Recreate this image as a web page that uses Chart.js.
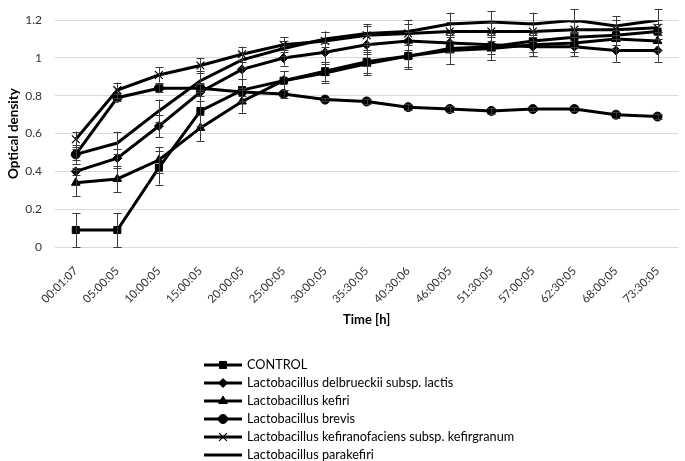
<!DOCTYPE html>
<html><head><meta charset="utf-8">
<script src="https://cdn.jsdelivr.net/npm/chart.js@4.4.0/dist/chart.umd.min.js"></script>
<style>html,body{margin:0;padding:0;background:#fff}#wrap{width:685px;height:461px;position:relative}</style>
</head><body><div id="wrap"><canvas id="c" width="685" height="461"></canvas></div>
<script>
const categories = ["00:01:07","05:00:05","10:00:05","15:00:05","20:00:05","25:00:05","30:00:05","35:30:05","40:30:06","46:00:05","51:30:05","57:00:05","62:30:05","68:00:05","73:30:05"];
const yTicks = [0, 0.2, 0.4, 0.6, 0.8, 1, 1.2];

const control = [0.09,0.09,0.42,0.72,0.83,0.88,0.93,0.98,1.01,1.05,1.06,1.09,1.11,1.12,1.14];
const controlErr = [0.09,0.09,0.09,0.08,0.06,0.05,0.05,0.06,0.07,0.08,0.07,0.06,0.05,0.05,0.04];
const delbrueckii = [0.40,0.47,0.64,0.82,0.94,1.00,1.03,1.07,1.09,1.08,1.07,1.06,1.06,1.04,1.04];
const delbrueckiiErr = [0.02,0.05,0.06,0.05,0.05,0.04,0.05,0.05,0.05,0.05,0.05,0.05,0.05,0.06,0.06];
const kefiri = [0.34,0.36,0.46,0.63,0.77,0.88,0.92,0.97,1.01,1.04,1.05,1.07,1.08,1.10,1.09];
const kefiriErr = [0.07,0.07,0.07,0.07,0.06,0.05,0.05,0.06,0.06,0.07,0.06,0.06,0.05,0.05,0.05];
const brevis = [0.49,0.79,0.84,0.84,0.82,0.81,0.78,0.77,0.74,0.73,0.72,0.73,0.73,0.70,0.69];
const brevisErr = [0.03,0.02,0.02,0.02,0.02,0.02,0.01,0.015,0.015,0.015,0.015,0.01,0.01,0.015,0.015];
const kefiranofaciens = [0.57,0.83,0.91,0.96,1.02,1.07,1.09,1.12,1.13,1.14,1.14,1.14,1.15,1.15,1.16];
const kefiranofaciensErr = [0.04,0.04,0.04,0.04,0.04,0.04,0.05,0.05,0.05,0.05,0.05,0.05,0.04,0.05,0.04];
const parakefiri = [0.49,0.55,0.72,0.88,0.99,1.05,1.10,1.13,1.14,1.18,1.19,1.18,1.20,1.17,1.20];
const parakefiriErr = [0.05,0.06,0.06,0.05,0.04,0.04,0.04,0.05,0.06,0.06,0.06,0.06,0.06,0.05,0.06];

const FONT = "Lato, 'Open Sans', sans-serif";

function ds(label, data, err, style, radius) {
  return {
    label, data, errors: err,
    borderColor: '#000', backgroundColor: '#000', borderWidth: 3,
    pointStyle: style, pointRadius: radius, pointHoverRadius: radius,
    pointBackgroundColor: '#000', pointBorderColor: '#000', pointBorderWidth: style === 'crossRot' ? 1.2 : 1,
    tension: 0, fill: false
  };
}

const datasets = [
  ds('CONTROL', control, controlErr, 'rect', 5),
  ds('Lactobacillus delbrueckii subsp. lactis', delbrueckii, delbrueckiiErr, 'rectRot', 4.5),
  ds('Lactobacillus kefiri', kefiri, kefiriErr, 'triangle', 5),
  ds('Lactobacillus brevis', brevis, brevisErr, 'circle', 4.5),
  ds('Lactobacillus kefiranofaciens subsp. kefirgranum', kefiranofaciens, kefiranofaciensErr, 'crossRot', 5.5),
  ds('Lactobacillus parakefiri', parakefiri, parakefiriErr, 'circle', 0)
];

const errorBars = {
  id: 'errorBars',
  afterDatasetsDraw(chart) {
    const ctx = chart.ctx, ys = chart.scales.y;
    ctx.save();
    ctx.strokeStyle = '#3a3a3a';
    ctx.lineWidth = 1;
    chart.data.datasets.forEach((d, i) => {
      const meta = chart.getDatasetMeta(i);
      meta.data.forEach((pt, j) => {
        const e = d.errors[j];
        if (!e) return;
        const x = Math.round(pt.x) + 0.5;
        const y1 = ys.getPixelForValue(d.data[j] + e);
        const y2 = ys.getPixelForValue(d.data[j] - e);
        ctx.beginPath();
        ctx.moveTo(x, y1); ctx.lineTo(x, y2);
        ctx.moveTo(x - 4, Math.round(y1) + 0.5); ctx.lineTo(x + 4, Math.round(y1) + 0.5);
        ctx.moveTo(x - 4, Math.round(y2) + 0.5); ctx.lineTo(x + 4, Math.round(y2) + 0.5);
        ctx.stroke();
      });
    });
    ctx.restore();
  }
};

function drawMarker(ctx, style, r, x, y, bw) {
  if (!r) return;
  if (Chart.helpers && Chart.helpers.drawPoint) {
    ctx.fillStyle = '#000'; ctx.strokeStyle = '#000'; ctx.lineWidth = bw;
    Chart.helpers.drawPoint(ctx, {pointStyle: style, radius: r, borderWidth: bw, rotation: 0}, x, y);
  }
}

const bottomLegend = {
  id: 'bottomLegend',
  afterDraw(chart) {
    const ctx = chart.ctx;
    const x0 = 204, lineLen = 38, rowH = 18, y0 = 365;
    ctx.save();
    chart.data.datasets.forEach((d, i) => {
      const y = y0 + i * rowH;
      ctx.strokeStyle = '#000'; ctx.lineWidth = 3;
      ctx.beginPath(); ctx.moveTo(x0, y); ctx.lineTo(x0 + lineLen, y); ctx.stroke();
      drawMarker(ctx, d.pointStyle, d.pointRadius, x0 + lineLen / 2, y, d.pointBorderWidth);
      ctx.fillStyle = '#000';
      ctx.font = '12.7px ' + FONT;
      ctx.textBaseline = 'middle';
      ctx.textAlign = 'left';
      ctx.fillText(d.label, x0 + lineLen + 5, y);
    });
    ctx.restore();
  }
};

new Chart(document.getElementById('c'), {
  type: 'line',
  data: { labels: categories, datasets },
  plugins: [errorBars, bottomLegend],
  options: {
    responsive: false,
    animation: false,
    devicePixelRatio: 1,
    layout: { padding: { top: 15, right: 1, left: 0, bottom: 129 } },
    plugins: { legend: { display: false }, tooltip: { enabled: false } },
    scales: {
      x: {
        type: 'category',
        offset: true,
        grid: { display: false, drawTicks: false },
        border: { display: false },
        ticks: { minRotation: 45, maxRotation: 45, padding: 17, color: '#333', font: { family: FONT, size: 11.5 } },
        title: { display: true, text: 'Time [h]', color: '#000', font: { family: FONT, size: 13, weight: 'bold' }, padding: { top: 4, bottom: 4 } },
        afterFit(s) { s.height = 85; }
      },
      y: {
        min: 0, max: 1.2,
        afterBuildTicks(s) { s.ticks = yTicks.map(v => ({ value: v })); },
        grid: { color: '#d9d9d9', lineWidth: 1, drawTicks: false },
        border: { display: false },
        ticks: { padding: 13, color: '#333', font: { family: FONT, size: 12 }, callback: v => String(v) },
        title: { display: true, text: 'Optical density', color: '#000', font: { family: FONT, size: 13.5, weight: 'bold' }, padding: { top: 6, bottom: 2 } },
        afterFit(s) { s.width = 55; }
      }
    }
  }
});
</script></body></html>
